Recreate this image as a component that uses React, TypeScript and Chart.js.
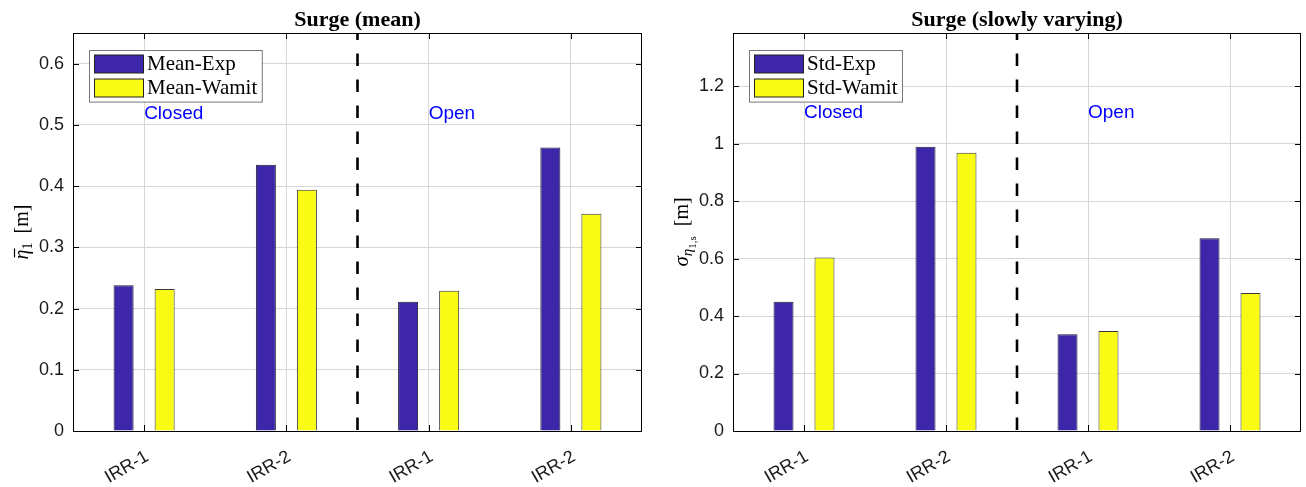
import React, { useEffect, useRef } from "react";
import { Chart, registerables } from "chart.js";
Chart.register(...registerables);

// ---------- data ----------
const categories = ["IRR-1", "IRR-2", "IRR-1", "IRR-2"];
const meanExp = [0.238, 0.435, 0.211, 0.463];
const meanWamit = [0.232, 0.394, 0.229, 0.355];
const stdExp = [0.45, 0.989, 0.337, 0.671];
const stdWamit = [0.604, 0.968, 0.348, 0.48];
const meanTicks = [0, 0.1, 0.2, 0.3, 0.4, 0.5, 0.6];
const stdTicks = [0, 0.2, 0.4, 0.6, 0.8, 1, 1.2];
const meanMax = 0.65;
const stdMax = 1.385;
const meanSeriesNames = ["Mean-Exp", "Mean-Wamit"];
const stdSeriesNames = ["Std-Exp", "Std-Wamit"];
const groupLabels = ["Closed", "Open"];
const groupLabelIndex = [0, 2];
const meanGroupLabelY = 0.518;
const stdGroupLabelY = 1.106;
const separatorIndex = 1.5;
const meanTitle = "Surge (mean)";
const stdTitle = "Surge (slowly varying)";

// ---------- styles ----------
const BLUE = "rgb(62,38,168)";
const YELLOW = "rgb(249,251,21)";
const GRID = "#d6d6d6";
const SANS = "'Liberation Sans', Arial, sans-serif";
const SERIF = "'Liberation Serif', 'Times New Roman', serif";

type Piece = { t: string; font: string; dy: number; bar?: boolean; gap?: number };

const meanYTitle: Piece[] = [
  { t: "η", font: `italic 20px ${SERIF}`, dy: 0, bar: true },
  { t: "1", font: `14px ${SERIF}`, dy: 4, gap: 9 },
  { t: "[m]", font: `20px ${SERIF}`, dy: 0 },
];
const stdYTitle: Piece[] = [
  { t: "σ", font: `italic 21px ${SERIF}`, dy: 0 },
  { t: "η", font: `italic 15px ${SERIF}`, dy: 4 },
  { t: "1,s", font: `11px ${SERIF}`, dy: 8, gap: 10 },
  { t: "[m]", font: `20px ${SERIF}`, dy: 0 },
];

type PanelProps = {
  left: number;
  exp: number[];
  wamit: number[];
  names: string[];
  ticks: number[];
  max: number;
  title: string;
  yTitle: Piece[];
  groupY: number;
  axisWidth: number;
  padRight: number;
};

function Panel(p: PanelProps) {
  const ref = useRef<HTMLCanvasElement>(null);
  useEffect(() => {
    const decor = {
      id: "decor",
      afterDatasetsDraw(chart: any) {
        const ctx = chart.ctx;
        const ca = chart.chartArea;
        const xs = chart.scales.x;
        const ys = chart.scales.y;
        ctx.save();
        // separator dashed line
        const sx = xs.getPixelForValue(separatorIndex);
        ctx.strokeStyle = "#000";
        ctx.lineWidth = 2.6;
        ctx.setLineDash([12.5, 13.5]);
        ctx.lineDashOffset = -1;
        ctx.beginPath();
        ctx.moveTo(sx, ys.getPixelForValue(0));
        ctx.lineTo(sx, ca.top);
        ctx.stroke();
        ctx.setLineDash([]);
        // box
        ctx.lineWidth = 1;
        ctx.strokeStyle = "#000";
        ctx.strokeRect(Math.round(ca.left) + 0.5, Math.round(ca.top) + 0.5, Math.round(ca.right - ca.left) - 1, Math.round(ca.bottom - ca.top));
        // inward ticks
        ctx.beginPath();
        const tl = 6;
        p.ticks.forEach((v) => {
          const y = Math.round(ys.getPixelForValue(v)) + 0.5;
          ctx.moveTo(ca.left, y);
          ctx.lineTo(ca.left + tl, y);
          ctx.moveTo(ca.right, y);
          ctx.lineTo(ca.right - tl, y);
        });
        categories.forEach((_, i) => {
          const x = Math.round(xs.getPixelForValue(i)) + 0.5;
          ctx.moveTo(x, ca.bottom);
          ctx.lineTo(x, ca.bottom - tl);
          ctx.moveTo(x, ca.top);
          ctx.lineTo(x, ca.top + tl);
        });
        ctx.stroke();
        ctx.restore();
      },
      afterDraw(chart: any) {
        const ctx = chart.ctx;
        const ca = chart.chartArea;
        const xs = chart.scales.x;
        const ys = chart.scales.y;
        ctx.save();
        // title
        ctx.fillStyle = "#000";
        ctx.font = `bold 22px ${SERIF}`;
        ctx.textAlign = "center";
        ctx.textBaseline = "alphabetic";
        ctx.fillText(p.title, (ca.left + ca.right) / 2, 26);
        // group labels
        ctx.font = `19px ${SANS}`;
        ctx.fillStyle = "#0000ff";
        ctx.textAlign = "left";
        ctx.textBaseline = "middle";
        groupLabels.forEach((g, i) => {
          ctx.fillText(g, xs.getPixelForValue(groupLabelIndex[i]), ys.getPixelForValue(p.groupY));
        });
        // legend
        const ds = chart.data.datasets;
        const bx = Math.round(ca.left + 15.7) + 0.5;
        const by = Math.round(ca.top + 16.7) + 0.5;
        const swW = 49;
        const swH = 18;
        const tx = bx + 5 + swW + 3.5;
        ctx.font = `21px ${SERIF}`;
        let maxW = 0;
        ds.forEach((d: any) => {
          maxW = Math.max(maxW, ctx.measureText(d.label).width);
        });
        const bw = tx + maxW + 5 - bx;
        const bh = 51.6;
        ctx.fillStyle = "#fff";
        ctx.fillRect(bx, by, bw, bh);
        ctx.strokeStyle = "#777";
        ctx.lineWidth = 1;
        ctx.strokeRect(bx, by, bw, bh);
        ds.forEach((d: any, i: number) => {
          const sy = Math.round(by + 4.3 + i * 24.5);
          ctx.fillStyle = d.backgroundColor;
          ctx.fillRect(bx + 5, sy, swW, swH);
          ctx.strokeStyle = "#222";
          ctx.strokeRect(bx + 5, sy, swW, swH);
          ctx.fillStyle = "#000";
          ctx.textAlign = "left";
          ctx.textBaseline = "middle";
          ctx.fillText(d.label, tx, sy + swH / 2);
        });
        // y title
        ctx.translate(ca.left - 45.5, (ca.top + ca.bottom) / 2);
        ctx.rotate(-Math.PI / 2);
        ctx.textBaseline = "alphabetic";
        ctx.textAlign = "left";
        ctx.fillStyle = "#000";
        let total = 0;
        const ws = p.yTitle.map((pc) => {
          ctx.font = pc.font;
          const w = ctx.measureText(pc.t).width;
          total += w + (pc.gap || 0);
          return w;
        });
        let x = -total / 2;
        p.yTitle.forEach((pc, i) => {
          ctx.font = pc.font;
          ctx.fillText(pc.t, x, pc.dy);
          if (pc.bar) {
            ctx.strokeStyle = "#000";
            ctx.lineWidth = 1.2;
            ctx.beginPath();
            ctx.moveTo(x + 2, -13);
            ctx.lineTo(x + ws[i] + 1, -13);
            ctx.stroke();
          }
          x += ws[i] + (pc.gap || 0);
        });
        ctx.restore();
      },
    };

    const chart = new Chart(ref.current as HTMLCanvasElement, {
      type: "bar",
      data: {
        labels: categories,
        datasets: [
          {
            label: p.names[0],
            data: p.exp,
            backgroundColor: BLUE,
            borderColor: "#1c1c2c",
            borderWidth: 1,
            categoryPercentage: 0.577,
            barPercentage: 0.488,
          },
          {
            label: p.names[1],
            data: p.wamit,
            backgroundColor: YELLOW,
            borderColor: "#3a3a3a",
            borderWidth: 1,
            categoryPercentage: 0.577,
            barPercentage: 0.488,
          },
        ],
      },
      options: {
        animation: false,
        responsive: false,
        maintainAspectRatio: false,
        layout: { padding: { left: 0, right: p.padRight, top: 33, bottom: 0 } },
        plugins: {
          legend: { display: false },
          title: { display: false },
          tooltip: { enabled: false },
        },
        scales: {
          x: {
            offset: true,
            grid: { offset: false, color: GRID, drawTicks: false },
            border: { display: false },
            ticks: {
              color: "#1a1a1a",
              font: { family: SANS, size: 18 },
              minRotation: 30,
              maxRotation: 30,
              padding: 15,
              labelOffset: 3,
              autoSkip: false,
            },
            afterFit: (s: any) => {
              s.height = 56;
            },
          },
          y: {
            min: 0,
            max: p.max,
            grid: { color: GRID, drawTicks: false },
            border: { display: false },
            ticks: {
              color: "#1a1a1a",
              font: { family: SANS, size: 18 },
              padding: 9,
              callback: (v: any) => String(v),
            },
            afterBuildTicks: (s: any) => {
              s.ticks = p.ticks.map((v) => ({ value: v }));
            },
            afterFit: (s: any) => {
              s.width = p.axisWidth;
            },
          },
        },
      } as any,
      plugins: [decor],
    });
    return () => chart.destroy();
  }, []);
  return (
    <canvas
      ref={ref}
      width={653}
      height={487}
      style={{ position: "absolute", left: p.left, top: 0, width: 653, height: 487, display: "block" }}
    />
  );
}

export default function App() {
  return (
    <div style={{ position: "absolute", left: 0, top: 0, width: 1306, height: 487, background: "#fff" }}>
      <Panel
        left={0}
        exp={meanExp}
        wamit={meanWamit}
        names={meanSeriesNames}
        ticks={meanTicks}
        max={meanMax}
        title={meanTitle}
        yTitle={meanYTitle}
        groupY={meanGroupLabelY}
        axisWidth={73}
        padRight={11}
      />
      <Panel
        left={653}
        exp={stdExp}
        wamit={stdWamit}
        names={stdSeriesNames}
        ticks={stdTicks}
        max={stdMax}
        title={stdTitle}
        yTitle={stdYTitle}
        groupY={stdGroupLabelY}
        axisWidth={80}
        padRight={5}
      />
    </div>
  );
}
